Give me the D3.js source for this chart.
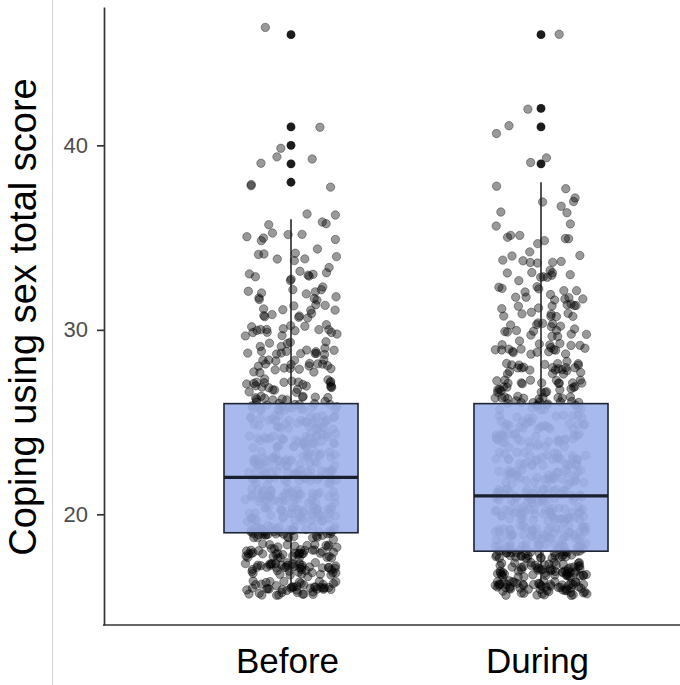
<!DOCTYPE html>
<head>
    <title>Coping using sex</title>
    <script src="https://cdn.jsdelivr.net/npm/d3@7"></script>
    <style>
        body { margin: 0; background: white; }
        svg { font-family: "Liberation Sans", Arial, sans-serif; }
    </style>
</head>
<body>

<div id="container"></div>

<script>

// Data
const groups = ["Before", "During"];
const scores = [16, 17, 18, 19, 20, 21, 22, 23, 24, 25, 26, 27, 28, 29, 30, 31,
                32, 33, 34, 35, 36, 37, 38, 39, 40, 41, 42, 43, 44, 45, 46];
// number of respondents per score
const countsBefore = [48, 48, 46, 46, 46, 44, 42, 40, 38, 36, 34, 24, 21, 19, 17, 14,
                      12, 10, 8, 7, 5, 0, 3, 3, 1, 1, 0, 0, 0, 0, 1];
const countsDuring = [62, 62, 58, 50, 48, 46, 36, 34, 32, 30, 30, 26, 24, 21, 18, 16,
                      14, 10, 9, 7, 4, 4, 2, 2, 0, 2, 1, 0, 0, 0, 1];
// box statistics: lower whisker, Q1, median, Q3, upper whisker
const whiskerLow = [16, 16];
const q1 = [19, 18];
const median = [22, 21];
const q3 = [26, 26];
const whiskerHigh = [36, 38];
const yTicks = [20, 30, 40];

// Dimensions
const width = 680;
const height = 685;

const svg = d3.create("svg")
    .attr("width", width)
    .attr("height", height);

const x = d3.scalePoint()
    .domain(groups)
    .range([291, 541]);

const y = d3.scaleLinear()
    .domain([14, 47.5])
    .range([625, 7]);

const boxWidth = 134;
const jitterW = 46;   // px
const jitterH = 0.4;  // score units

// thin grey line on the left edge of the panel
svg.append("line")
    .attr("x1", 52.5).attr("x2", 52.5)
    .attr("y1", 0).attr("y2", height)
    .style("stroke", "#d2d2d2")
    .style("stroke-width", 1);

// deterministic jitter
function jitter(i, k) {
    const v = Math.sin(i * 12.9898 + k * 78.233) * 43758.5453;
    return v - Math.floor(v) - 0.5;
}

// expand counts into points
const allCounts = [countsBefore, countsDuring];
let points = [];
let n = 0;
groups.forEach((g, gi) => {
    scores.forEach((s, si) => {
        for (let c = 0; c < allCounts[gi][si]; c++) {
            points.push({group: g, score: s, jx: jitter(n, 1), jy: jitter(n, 2)});
            n++;
        }
    });
});

// Jittered points
svg.append("g")
    .selectAll("circle")
    .data(points)
    .join("circle")
    .attr("cx", d => x(d.group) + d.jx * 2 * jitterW)
    .attr("cy", d => y(d.score + d.jy * 2 * jitterH))
    .attr("r", 4.2)
    .style("fill", "black")
    .style("fill-opacity", 0.4)
    .style("stroke", "black")
    .style("stroke-opacity", 0.35)
    .style("stroke-width", 1);

// Boxplots
const boxes = svg.append("g")
    .selectAll("g")
    .data(groups)
    .join("g");

// whiskers
boxes.append("line")
    .attr("x1", d => x(d)).attr("x2", d => x(d))
    .attr("y1", (d, i) => y(q3[i])).attr("y2", (d, i) => y(whiskerHigh[i]))
    .style("stroke", "#1a1a1a").style("stroke-width", 1.5);
boxes.append("line")
    .attr("x1", d => x(d)).attr("x2", d => x(d))
    .attr("y1", (d, i) => y(q1[i])).attr("y2", (d, i) => y(whiskerLow[i]))
    .style("stroke", "#1a1a1a").style("stroke-width", 1.5);

boxes.append("rect")
    .attr("x", d => x(d) - boxWidth / 2)
    .attr("width", boxWidth)
    .attr("y", (d, i) => y(q3[i]))
    .attr("height", (d, i) => y(q1[i]) - y(q3[i]))
    .style("fill", "rgb(158,177,236)")
    .style("fill-opacity", 0.9)
    .style("stroke", "#1e2433")
    .style("stroke-width", 1.6);

boxes.append("line")
    .attr("x1", d => x(d) - boxWidth / 2).attr("x2", d => x(d) + boxWidth / 2)
    .attr("y1", (d, i) => y(median[i])).attr("y2", (d, i) => y(median[i]))
    .style("stroke", "#1a1f2c").style("stroke-width", 3.4);

// outliers = scores beyond the whiskers that have respondents
const outliers = [];
groups.forEach((g, gi) => {
    scores.forEach((s, si) => {
        if (allCounts[gi][si] > 0 && (s > whiskerHigh[gi] || s < whiskerLow[gi]))
            outliers.push({group: g, score: s});
    });
});
svg.append("g")
    .selectAll("circle")
    .data(outliers)
    .join("circle")
    .attr("cx", d => x(d.group))
    .attr("cy", d => y(d.score))
    .attr("r", 4.4)
    .style("fill", "#1c1c1c");

// Y axis
const yAxis = svg.append("g")
    .attr("transform", "translate(104,0)")
    .call(d3.axisLeft(y).tickValues(yTicks).tickSize(7).tickSizeOuter(0).tickPadding(9));
yAxis.select(".domain").style("stroke", "#333").style("stroke-width", 1.7);
yAxis.selectAll(".tick line").style("stroke", "#333").style("stroke-width", 1.7);
yAxis.selectAll(".tick text")
    .style("font-size", "22px")
    .style("fill", "#4d4d4d")
    .style("font-family", "Liberation Sans, Arial, sans-serif");

// X axis
svg.append("line")
    .attr("x1", 103).attr("x2", width)
    .attr("y1", y(14)).attr("y2", y(14))
    .style("stroke", "#333").style("stroke-width", 1.7);

const xAxis = svg.append("g")
    .attr("transform", `translate(-4,${y(14)})`)
    .call(d3.axisBottom(x).tickSize(0).tickPadding(23));
xAxis.select(".domain").remove();
xAxis.selectAll(".tick text")
    .style("font-size", "35px")
    .style("fill", "black")
    .style("font-family", "Liberation Sans, Arial, sans-serif");

// Y title
svg.append("text")
    .attr("transform", "translate(35.5,317) rotate(-90)")
    .attr("text-anchor", "middle")
    .style("font-size", "38px")
    .style("fill", "black")
    .text("Coping using sex total score");

container.append(svg.node());

</script>

</body>
